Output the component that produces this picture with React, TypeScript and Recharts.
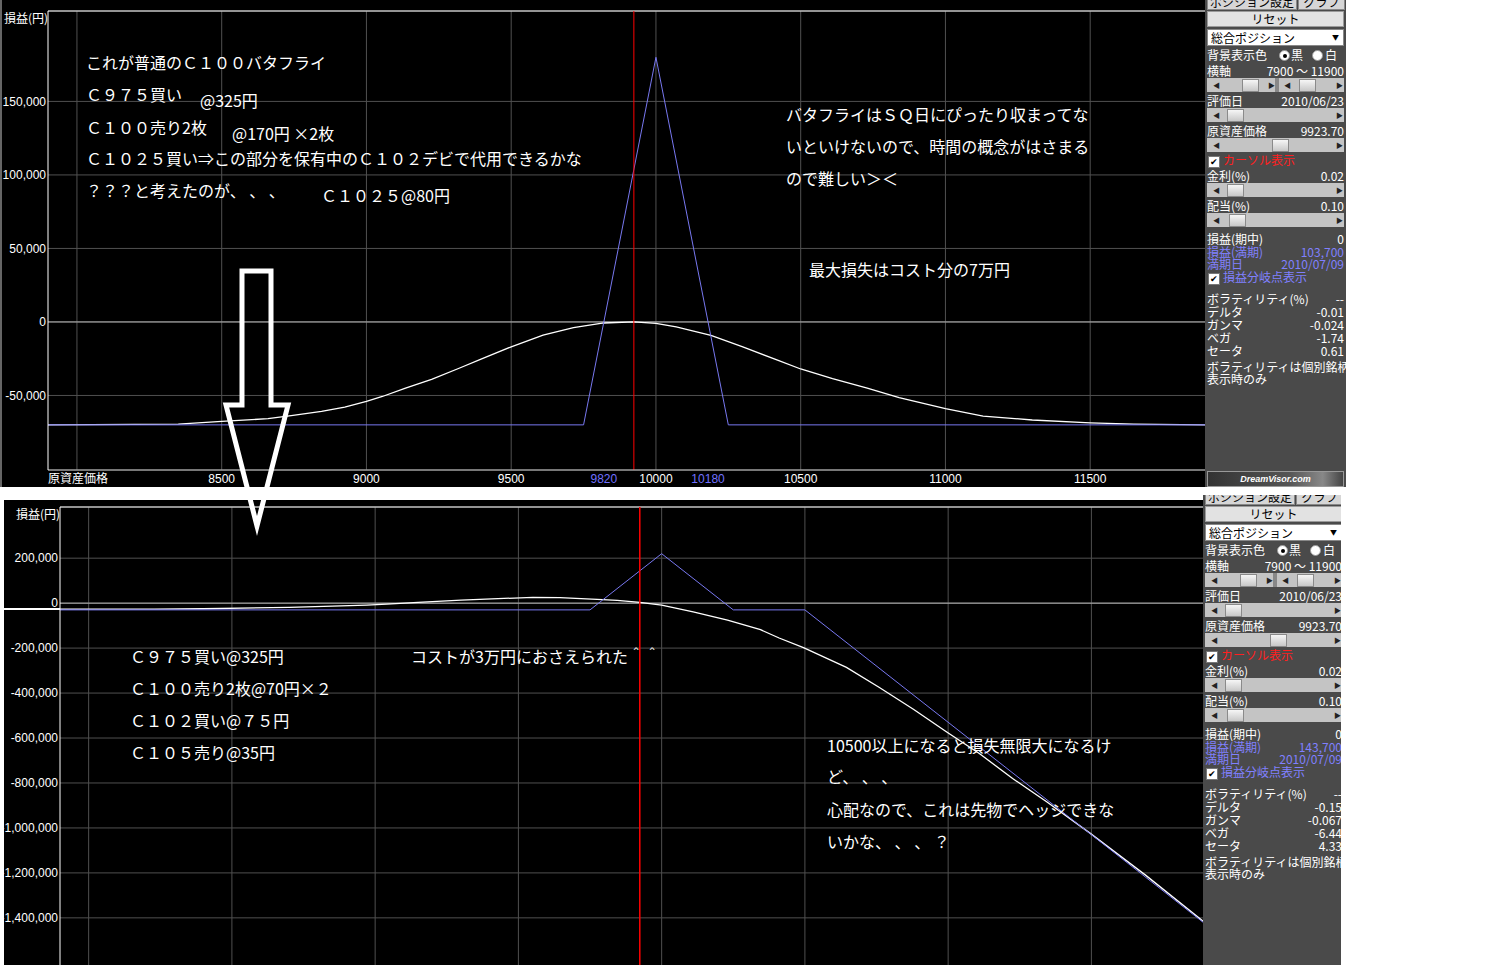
import { LineChart, Line, XAxis, YAxis, CartesianGrid, ReferenceLine } from 'recharts'

const NUM_FONT = '"Liberation Sans", "Noto Sans CJK JP", sans-serif'
const JP_FONT = '"Noto Sans CJK JP", "Liberation Sans", sans-serif'
const GRID = '#505050'
const ZERO = '#b4b4b4'
const BLUE = '#7878f0'
const SPOT = 9923.7

// 上段：普通のC100バタフライ
const topExpiryPrice = [7900, 9750, 10000, 10250, 11900]
const topExpiryPL = [-70000, -70000, 180000, -70000, -70000]
const topNowPrice = [7900, 8350, 8500, 8660, 8740, 8845, 8925, 9000, 9055, 9135, 9225, 9320, 9400, 9500, 9610, 9715, 9820, 9924, 10000, 10070, 10190, 10300, 10420, 10500, 10610, 10730, 10840, 11000, 11130, 11300, 11500, 11650, 11900]
const topNowPL = [-70000, -69500, -67600, -65800, -63700, -60800, -57900, -54000, -50700, -45000, -39000, -31500, -25000, -16900, -9000, -3800, -700, 0, -900, -3400, -9100, -17000, -26000, -32000, -38500, -45000, -51500, -59000, -64000, -66700, -68600, -69500, -70000]
const topXTicks = [8500, 9000, 9500, 9820, 10000, 10180, 10500, 11000, 11500]
const topBreakEven = [9820, 10180]
const topYTicks = [-50000, 0, 50000, 100000, 150000]
const topYDomain = [-100700, 211500]

// 下段：C102買い・C105売りを加えた形
const btmExpiryPrice = [7900, 9750, 10000, 10250, 10500, 11900]
const btmExpiryPL = [-30000, -30000, 220000, -30000, -30000, -1430000]
const btmNowPrice = [7900, 8230, 8400, 8700, 8850, 8970, 9040, 9150, 9300, 9450, 9550, 9645, 9700, 9775, 9845, 9924, 10000, 10110, 10230, 10345, 10410, 10495, 10645, 10760, 10880, 10995, 11110, 11225, 11345, 11495, 11690, 11900]
const btmNowPL = [-27000, -26500, -25000, -19000, -13400, -8900, -4500, 3000, 13000, 21000, 25500, 25000, 21000, 16500, 12000, 3000, -9000, -38500, -75500, -118000, -155000, -198000, -286000, -375000, -473000, -573000, -670000, -780000, -885000, -1023000, -1211000, -1425000]
const btmYTicks = [-1400000, -1200000, -1000000, -800000, -600000, -400000, -200000, 0, 200000]
const btmYDomain = [-1636400, 427700]

const gridX = [8000, 8500, 9000, 9500, 10000, 10500, 11000, 11500]

const topPanel = { axis: '7900 ～ 11900', date: '2010/06/23', price: '9923.70', rate: '0.02', div: '0.10', plNow: '0', plExp: '103,700', expDate: '2010/07/09', vol: '--', delta: '-0.01', gamma: '-0.024', vega: '-1.74', theta: '0.61' }
const btmPanel = { ...topPanel, plExp: '143,700', delta: '-0.15', gamma: '-0.067', vega: '-6.44', theta: '4.33' }

const toData = (px: number[], pl: number[]) => px.map((p, i) => ({ p, v: pl[i] }))
const fmt = (v: number) => v.toLocaleString('en-US')

function XTick(props: any) {
  const { x, y, payload } = props
  const be = topBreakEven.includes(payload.value)
  return (
    <text x={x} y={y + 13} textAnchor="middle" fill={be ? '#7070ff' : '#fff'} fontSize={12} fontFamily={NUM_FONT}>
      {payload.value}
    </text>
  )
}

function Note({ x, y, text }: { x: number; y: number; text: string }) {
  return (
    <div style={{ position: 'absolute', left: x, top: y - 9, lineHeight: '18px', fontSize: 16, color: '#fff', whiteSpace: 'nowrap', fontFamily: JP_FONT }}>
      {text}
    </div>
  )
}

function Slider({ top, thumbs }: { top: number; thumbs: number[] }) {
  const arrow = (left: number, ch: string) => (
    <span style={{ position: 'absolute', left, top: 0, fontSize: 7, lineHeight: '14px', color: '#222' }}>{ch}</span>
  )
  return (
    <div style={{ position: 'absolute', left: 2, top, width: 137, height: 14, background: '#c4c4c4' }}>
      {arrow(6, '◀')}
      {thumbs.length > 1 && arrow(61, '▶')}
      {thumbs.length > 1 && arrow(77, '◀')}
      {thumbs.length > 1 && <div style={{ position: 'absolute', left: 68, top: 0, width: 4, height: 14, background: '#888' }} />}
      {arrow(129, '▶')}
      {thumbs.map((t) => (
        <div key={t} style={{ position: 'absolute', left: t, top: 1, width: 15, height: 11, border: '1px solid #8a8a8a', background: 'linear-gradient(#f6f6f6, #c8c8c8)' }} />
      ))}
    </div>
  )
}

function Panel({ left, top, width, height, v, logo }: any) {
  const row = (y: number, l: string, r: string, color = '#fff') => (
    <div style={{ position: 'absolute', left: 2, width: 137, top: y - 6, height: 12, lineHeight: '12px', display: 'flex', justifyContent: 'space-between', color, whiteSpace: 'nowrap' }}>
      <span>{l}</span>
      <span>{r}</span>
    </div>
  )
  const check = (y: number, label: string, color: string) => (
    <div style={{ position: 'absolute', left: 3, top: y - 6, height: 12, lineHeight: '12px', color, whiteSpace: 'nowrap' }}>
      <span style={{ display: 'inline-block', width: 10, height: 10, background: '#fff', border: '1px solid #777', color: '#000', fontSize: 9, lineHeight: '10px', textAlign: 'center', verticalAlign: 'middle', marginRight: 3 }}>✔</span>
      {label}
    </div>
  )
  const radio = (x: number, on: boolean) => (
    <div style={{ position: 'absolute', left: x, top: 50, width: 9, height: 9, borderRadius: 6, background: '#fff', border: '1px solid #999' }}>
      {on && <div style={{ position: 'absolute', left: 2.5, top: 2.5, width: 4, height: 4, borderRadius: 2, background: '#000' }} />}
    </div>
  )
  return (
    <div style={{ position: 'absolute', left, top, width, height, overflow: 'hidden', background: '#4a4a4a', fontFamily: JP_FONT, fontSize: 12, color: '#fff' }}>
      <div style={{ position: 'absolute', left: 2, top: -6, width: 88, height: 14, background: '#d6d6d6', color: '#000', lineHeight: '14px', textAlign: 'center', border: '1px solid #888' }}>ポジション設定</div>
      <div style={{ position: 'absolute', left: 93, top: -6, width: 45, height: 14, background: '#d6d6d6', color: '#000', lineHeight: '14px', textAlign: 'center', border: '1px solid #888' }}>グラフ</div>
      <div style={{ position: 'absolute', left: 2, top: 11, width: 135, height: 14, background: '#e2e2e2', color: '#000', lineHeight: '14px', textAlign: 'center', border: '1px solid #9a9a9a' }}>リセット</div>
      <div style={{ position: 'absolute', left: 2, top: 29, width: 135, height: 15, background: '#fff', color: '#000', lineHeight: '15px', border: '1px solid #888' }}>
        <span style={{ marginLeft: 3 }}>総合ポジション</span>
        <span style={{ position: 'absolute', right: 4, top: 0, fontSize: 7 }}>▼</span>
      </div>
      {row(55, '背景表示色', '')}
      {radio(74, true)}
      <div style={{ position: 'absolute', left: 86, top: 49, lineHeight: '12px' }}>黒</div>
      {radio(107, false)}
      <div style={{ position: 'absolute', left: 120, top: 49, lineHeight: '12px' }}>白</div>
      {row(71, '横軸', v.axis)}
      <Slider top={78} thumbs={[35, 92]} />
      {row(101, '評価日', v.date)}
      <Slider top={108} thumbs={[20]} />
      {row(131, '原資産価格', v.price)}
      <Slider top={138} thumbs={[65]} />
      {check(160, 'カーソル表示', '#ff2020')}
      {row(176, '金利(%)', v.rate)}
      <Slider top={183} thumbs={[20]} />
      {row(206, '配当(%)', v.div)}
      <Slider top={213} thumbs={[22]} />
      {row(239, '損益(期中)', v.plNow)}
      {row(252, '損益(満期)', v.plExp, '#8080ff')}
      {row(264, '満期日', v.expDate, '#8080ff')}
      {check(277, '損益分岐点表示', '#8080ff')}
      {row(299, 'ボラティリティ(%)', v.vol)}
      {row(312, 'デルタ', v.delta)}
      {row(325, 'ガンマ', v.gamma)}
      {row(338, 'ベガ', v.vega)}
      {row(351, 'セータ', v.theta)}
      <div style={{ position: 'absolute', left: 2, top: 361, lineHeight: '12px', whiteSpace: 'nowrap' }}>ボラティリティは個別銘柄</div>
      <div style={{ position: 'absolute', left: 2, top: 373, lineHeight: '12px', whiteSpace: 'nowrap' }}>表示時のみ</div>
      {logo && (
        <div style={{ position: 'absolute', left: 2, top: 471, width: 135, height: 14, border: '1px solid #999', background: 'linear-gradient(90deg, #333, #555 60%, #888 85%, #444)', color: '#fff', fontFamily: NUM_FONT, fontStyle: 'italic', fontWeight: 'bold', fontSize: 9, lineHeight: '14px', textAlign: 'center' }}>
          DreamVisor.com
        </div>
      )}
    </div>
  )
}

export default function App() {
  const topNow = toData(topNowPrice, topNowPL)
  const topExp = toData(topExpiryPrice, topExpiryPL)
  const btmNow = toData(btmNowPrice, btmNowPL)
  const btmExp = toData(btmExpiryPrice, btmExpiryPL)
  const yTick = { fill: '#fff', fontSize: 12, fontFamily: NUM_FONT }

  return (
    <div style={{ position: 'absolute', left: 0, top: 0, width: 1490, height: 970, background: '#fff', overflow: 'hidden' }}>
      {/* 上段チャート */}
      <div style={{ position: 'absolute', left: 0, top: 0, width: 1205, height: 487, background: '#000', overflow: 'hidden' }}>
        <LineChart width={1206} height={487} margin={{ top: 11, right: 0, bottom: 0, left: 0 }}>
          <CartesianGrid stroke={GRID} vertical={false} />
          {gridX.map((g) => <ReferenceLine key={g} x={g} stroke={GRID} />)}
          <ReferenceLine y={0} stroke={ZERO} />
          <ReferenceLine y={topYDomain[1]} stroke="#fff" ifOverflow="visible" />
          <XAxis dataKey="p" type="number" domain={[7900, 11900]} allowDataOverflow ticks={topXTicks} interval={0}
            tickLine={false} tickSize={0} tickMargin={0} height={17} axisLine={{ stroke: '#c8c8c8' }} tick={(p: any) => <XTick {...p} />} />
          <YAxis type="number" domain={topYDomain} allowDataOverflow ticks={topYTicks} interval={0} width={48}
            tickLine={false} tickSize={0} tickMargin={2} axisLine={{ stroke: '#fff' }} tick={yTick} tickFormatter={fmt} />
          <Line data={topNow} dataKey="v" stroke="#fff" strokeWidth={1.3} dot={false} activeDot={false} isAnimationActive={false} />
          <Line data={topExp} dataKey="v" stroke={BLUE} strokeWidth={1} dot={false} activeDot={false} isAnimationActive={false} />
          <ReferenceLine x={SPOT} stroke="#ff0000" />
        </LineChart>
        <div style={{ position: 'absolute', left: 0, top: 0, width: 2, height: 487, background: '#666' }} />
        <div style={{ position: 'absolute', left: 4, top: 11, fontSize: 12, lineHeight: '14px', color: '#fff', fontFamily: JP_FONT }}>損益(円)</div>
        <div style={{ position: 'absolute', left: 48, top: 471, fontSize: 12, lineHeight: '14px', color: '#fff', fontFamily: JP_FONT }}>原資産価格</div>
      </div>
      <Panel left={1205} top={0} width={141} height={487} v={topPanel} logo />

      {/* 下段チャート */}
      <div style={{ position: 'absolute', left: 4, top: 500, width: 1199, height: 465, background: '#000', overflow: 'hidden' }}>
        <LineChart width={1202} height={471} margin={{ top: 7, right: 0, bottom: 0, left: 0 }}>
          <CartesianGrid stroke={GRID} vertical={false} />
          {gridX.map((g) => <ReferenceLine key={g} x={g} stroke={GRID} />)}
          <ReferenceLine y={0} stroke={ZERO} />
          <ReferenceLine y={btmYDomain[1]} stroke="#fff" ifOverflow="visible" />
          <XAxis dataKey="p" type="number" domain={[7900, 11900]} allowDataOverflow hide />
          <YAxis type="number" domain={btmYDomain} allowDataOverflow ticks={btmYTicks} interval={0} width={56}
            tickLine={false} tickSize={0} tickMargin={2} axisLine={{ stroke: '#fff' }} tick={yTick} tickFormatter={fmt} />
          <Line data={btmNow} dataKey="v" stroke="#fff" strokeWidth={1.3} dot={false} activeDot={false} isAnimationActive={false} />
          <Line data={btmExp} dataKey="v" stroke={BLUE} strokeWidth={1} dot={false} activeDot={false} isAnimationActive={false} />
          <ReferenceLine x={SPOT} stroke="#ff0000" strokeWidth={1.5} />
        </LineChart>
        <div style={{ position: 'absolute', left: 0, top: 108, width: 56, height: 2, background: '#fff' }} />
        <div style={{ position: 'absolute', left: 12, top: 7, fontSize: 12, lineHeight: '14px', color: '#fff', fontFamily: JP_FONT }}>損益(円)</div>
      </div>
      <Panel left={1203} top={495} width={138} height={470} v={btmPanel} />

      {/* 書き込み（上段） */}
      <Note x={86} y={62} text="これが普通のＣ１００バタフライ" />
      <Note x={86} y={94} text="Ｃ９７５買い" />
      <Note x={200} y={100} text="@325円" />
      <Note x={86} y={127} text="Ｃ１００売り2枚" />
      <Note x={232} y={133} text="@170円 ×2枚" />
      <Note x={86} y={158} text="Ｃ１０２５買い⇒この部分を保有中のＣ１０２デビで代用できるかな" />
      <Note x={86} y={190} text="？？？と考えたのが、 、 、" />
      <Note x={321} y={195} text="Ｃ１０２５@80円" />
      <Note x={786} y={114} text="バタフライはＳＱ日にぴったり収まってな" />
      <Note x={786} y={146} text="いといけないので、時間の概念がはさまる" />
      <Note x={786} y={178} text="ので難しい＞＜" />
      <Note x={809} y={269} text="最大損失はコスト分の7万円" />

      {/* 書き込み（下段） */}
      <Note x={130} y={656} text="Ｃ９７５買い@325円" />
      <Note x={130} y={688} text="Ｃ１００売り2枚@70円×２" />
      <Note x={130} y={720} text="Ｃ１０２買い@７５円" />
      <Note x={130} y={752} text="Ｃ１０５売り@35円" />
      <Note x={411} y={656} text="コストが3万円におさえられた＾＾" />
      <Note x={827} y={745} text="10500以上になると損失無限大になるけ" />
      <Note x={827} y={776} text="ど、 、 、" />
      <Note x={827} y={809} text="心配なので、これは先物でヘッジできな" />
      <Note x={827} y={841} text="いかな、 、 、 ？" />

      {/* 矢印 */}
      <svg width={1490} height={970} style={{ position: 'absolute', left: 0, top: 0, pointerEvents: 'none' }}>
        <polygon points="242,271 271,271 271,405 288,405 257,526 226,405 242,405" fill="none" stroke="#fff" strokeWidth={5} strokeLinejoin="miter" strokeMiterlimit={10} />
      </svg>
    </div>
  )
}
